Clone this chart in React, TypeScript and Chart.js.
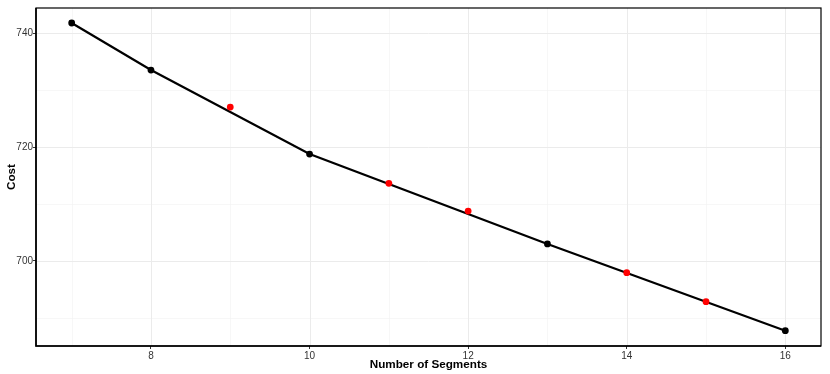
import React, { useEffect, useRef } from "react";
import { Chart, registerables } from "chart.js";

Chart.register(...registerables);

const segments = [7, 8, 9, 10, 11, 12, 13, 14, 15, 16];
const costs = [741.81, 733.55, 727.05, 718.79, 713.64, 708.77, 702.99, 697.95, 692.85, 687.75];
const isBreakpoint = [true, true, false, true, false, false, true, false, false, true];
const xTicks = [8, 10, 12, 14, 16];
const xMinor = [7, 9, 11, 13, 15];
const yTicks = [700, 720, 740];
const yMinor = [690, 710, 730];

const FONT = "'Liberation Sans', Arial, Helvetica, sans-serif";

const gridPlugin = {
  id: "ggGrid",
  beforeDatasetsDraw(chart: any) {
    const { ctx, chartArea: a, scales } = chart;
    const x = scales.x, y = scales.y;
    ctx.save();
    ctx.beginPath();
    ctx.rect(a.left, a.top, a.right - a.left, a.bottom - a.top);
    ctx.clip();
    const line = (x1: number, y1: number, x2: number, y2: number, w: number) => {
      ctx.lineWidth = w;
      ctx.beginPath();
      ctx.moveTo(x1, y1);
      ctx.lineTo(x2, y2);
      ctx.stroke();
    };
    ctx.strokeStyle = "#F2F2F2";
    xMinor.forEach((v) => { const p = Math.round(x.getPixelForValue(v)) + 0.5; line(p, a.top, p, a.bottom, 0.6); });
    yMinor.forEach((v) => { const p = Math.round(y.getPixelForValue(v)) + 0.5; line(a.left, p, a.right, p, 0.6); });
    ctx.strokeStyle = "#EBEBEB";
    xTicks.forEach((v) => { const p = Math.round(x.getPixelForValue(v)) + 0.5; line(p, a.top, p, a.bottom, 1); });
    yTicks.forEach((v) => { const p = Math.round(y.getPixelForValue(v)) + 0.5; line(a.left, p, a.right, p, 1); });
    ctx.restore();
  },
  afterDatasetsDraw(chart: any) {
    const { ctx, chartArea: a } = chart;
    ctx.save();
    ctx.strokeStyle = "#000000";
    ctx.lineWidth = 1.2;
    ctx.strokeRect(a.left, a.top, a.right - a.left, a.bottom - a.top);
    ctx.lineWidth = 1.6;
    ctx.beginPath();
    ctx.moveTo(a.left, a.top);
    ctx.lineTo(a.left, a.bottom);
    ctx.lineTo(a.right, a.bottom);
    ctx.stroke();
    ctx.restore();
  },
};

export default function App() {
  const ref = useRef<HTMLCanvasElement | null>(null);
  useEffect(() => {
    document.body.style.margin = "0";
    if (!ref.current) return;
    const linePts = segments
      .map((s, i) => ({ x: s, y: costs[i], b: isBreakpoint[i] }))
      .filter((p) => p.b)
      .map((p) => ({ x: p.x, y: p.y }));
    const allPts = segments.map((s, i) => ({ x: s, y: costs[i] }));
    const colors = isBreakpoint.map((b) => (b ? "#000000" : "#FF0000"));
    const chart = new Chart(ref.current, {
      type: "scatter",
      data: {
        datasets: [
          {
            type: "line",
            data: linePts,
            borderColor: "#000000",
            borderWidth: 2.2,
            pointRadius: 0,
            fill: false,
            tension: 0,
            order: 2,
          } as any,
          {
            type: "scatter",
            data: allPts,
            backgroundColor: colors,
            borderColor: colors,
            borderWidth: 0,
            pointRadius: 3.4,
            order: 1,
          } as any,
        ],
      },
      options: {
        animation: false,
        responsive: false,
        maintainAspectRatio: false,
        layout: { padding: { left: 0, top: 8, right: 9, bottom: 0 } },
        plugins: { legend: { display: false }, tooltip: { enabled: false } },
        scales: {
          x: {
            type: "linear",
            min: 6.55,
            max: 16.45,
            afterBuildTicks: (s: any) => { s.ticks = xTicks.map((v) => ({ value: v })); },
            afterFit: (s: any) => { s.height = 28; },
            grid: { drawOnChartArea: false, drawTicks: true, tickLength: 3, tickColor: "#333333", tickWidth: 1 },
            border: { display: false },
            ticks: { color: "#333333", font: { family: FONT, size: 10 }, padding: 1, maxRotation: 0, autoSkip: false },
            title: { display: true, text: "Number of Segments", color: "#000000", font: { family: FONT, size: 11.7, weight: "bold" }, padding: { top: 0, bottom: 2 } },
          },
          y: {
            type: "linear",
            min: 685.06,
            max: 744.45,
            afterBuildTicks: (s: any) => { s.ticks = yTicks.map((v) => ({ value: v })); },
            afterFit: (s: any) => { s.width = 36; },
            grid: { drawOnChartArea: false, drawTicks: true, tickLength: 3, tickColor: "#333333", tickWidth: 1 },
            border: { display: false },
            ticks: { color: "#333333", font: { family: FONT, size: 10 }, padding: 0 },
            title: { display: true, text: "Cost", color: "#000000", font: { family: FONT, size: 11.7, weight: "bold" }, padding: { top: 5, bottom: 0 } },
          },
        },
      },
      plugins: [gridPlugin],
    });
    return () => chart.destroy();
  }, []);
  return (
    <div style={{ width: 830, height: 374 }}>
      <canvas ref={ref} width={830} height={374} style={{ display: "block", width: 830, height: 374 }} />
    </div>
  );
}
